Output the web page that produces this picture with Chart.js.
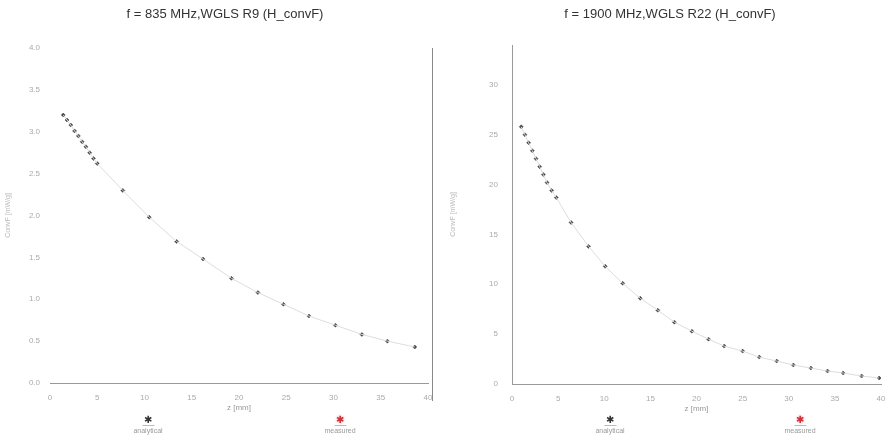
<!DOCTYPE html>
<html>
<head>
<meta charset="utf-8">
<script src="https://cdn.jsdelivr.net/npm/chart.js@4"></script>
<style>
  body { margin: 0; background: #fff; font-family: Arial, "Liberation Sans", sans-serif; }
  #wrap { position: relative; width: 889px; height: 446px; overflow: hidden; }
  .box { position: absolute; top: 0; height: 446px; }
  .title { position: absolute; top: 6px; font-size: 13px; color: #333; white-space: nowrap; transform: translateX(-50%); }
  .leg { position: absolute; top: 414px; font-size: 7px; color: #999; text-align: center; transform: translateX(-50%); line-height: 9px; }
  .leg .ic { font-size: 10px; color: #333; line-height: 11px; border-bottom: 1px solid #bbb; display: inline-block; padding: 0 2px; }
  .leg .ic.red { color: #c33; text-shadow: 0 0 3px #f9c; }
</style>
</head>
<body>
<div id="wrap">
  <div class="box" style="left:0;width:445px"><canvas id="left" width="445" height="446"></canvas></div>
  <div class="box" style="left:445px;width:444px"><canvas id="right" width="444" height="446"></canvas></div>
  <div class="title" style="left:225px">f = 835 MHz,WGLS R9 (H_convF)</div>
  <div class="title" style="left:670px">f = 1900 MHz,WGLS R22 (H_convF)</div>
  <div class="leg" style="left:148px"><span class="ic">✱</span><br>analytical</div>
  <div class="leg" style="left:340px"><span class="ic red">✱</span><br>measured</div>
  <div class="leg" style="left:610px"><span class="ic">✱</span><br>analytical</div>
  <div class="leg" style="left:800px"><span class="ic red">✱</span><br>measured</div>
</div>
<script>
// 835 MHz, R9
const zLeft = [1.4, 1.8, 2.2, 2.6, 3.0, 3.4, 3.8, 4.2, 4.6, 5.0,
  7.7, 10.5, 13.4, 16.2, 19.2, 22.0, 24.7, 27.4, 30.2, 33.0, 35.7, 38.6];
const convLeft = [3.20, 3.14, 3.08, 3.01, 2.95, 2.88, 2.82, 2.75, 2.68, 2.62,
  2.30, 1.98, 1.69, 1.48, 1.25, 1.08, 0.94, 0.80, 0.69, 0.58, 0.50, 0.43];

// 1900 MHz, R22
const zRight = [1.0, 1.4, 1.8, 2.2, 2.6, 3.0, 3.4, 3.8, 4.3, 4.8,
  6.4, 8.3, 10.1, 12.0, 13.9, 15.8, 17.6, 19.5, 21.3, 23.0, 25.0, 26.8,
  28.7, 30.5, 32.4, 34.2, 35.9, 37.9, 39.8];
const convRight = [25.8, 25.0, 24.2, 23.4, 22.6, 21.8, 21.0, 20.2, 19.4, 18.7,
  16.2, 13.8, 11.8, 10.1, 8.6, 7.4, 6.2, 5.3, 4.5, 3.8, 3.3, 2.7,
  2.3, 1.9, 1.6, 1.3, 1.1, 0.8, 0.6];

const xTicks = [0, 5, 10, 15, 20, 25, 30, 35, 40];
const yTicksLeft = [0, 0.5, 1, 1.5, 2, 2.5, 3, 3.5, 4];
const yTicksRight = [0, 5, 10, 15, 20, 25, 30];

const pts = (xs, ys) => xs.map((x, i) => ({ x, y: ys[i] }));

const rightLine = {
  id: "rightLine",
  afterDraw(chart, args, opts) {
    if (!opts.on) return;
    const { ctx, chartArea } = chart;
    ctx.save();
    ctx.strokeStyle = "#888";
    ctx.lineWidth = 1;
    ctx.beginPath();
    ctx.moveTo(chartArea.right + 4.5, chartArea.top);
    ctx.lineTo(chartArea.right + 4.5, chartArea.bottom + 18);
    ctx.stroke();
    ctx.restore();
  }
};

function makeChart(id, xs, ys, yMax, yTicks, pad, yWidth, showYBorder, sideLine) {
  return new Chart(document.getElementById(id), {
    type: "scatter",
    data: {
      datasets: [
        {
          label: "analytical",
          data: pts(xs, ys),
          showLine: true,
          borderColor: "#ddd",
          borderWidth: 1,
          pointRadius: 0
        },
        {
          label: "measured",
          data: pts(xs, ys),
          pointStyle: "rectRot",
          pointRadius: 2,
          backgroundColor: "#444",
          borderColor: "#444",
          borderWidth: 0.5
        }
      ]
    },
    options: {
      responsive: false,
      animation: false,
      layout: { padding: pad },
      plugins: { legend: { display: false }, tooltip: { enabled: false }, rightLine: { on: sideLine } },
      scales: {
        x: {
          type: "linear",
          min: 0, max: 40,
          afterBuildTicks: s => { s.ticks = xTicks.map(v => ({ value: v })); },
          afterFit: s => { s.height = 34; },
          grid: { display: false },
          border: { display: true, color: "#999" },
          ticks: { color: "#aaa", font: { size: 8 }, padding: 2 },
          title: { display: true, text: "z [mm]", color: "#999", font: { size: 8 }, padding: { top: 9 } }
        },
        y: {
          type: "linear",
          min: 0, max: yMax,
          afterBuildTicks: s => { s.ticks = yTicks.map(v => ({ value: v })); },
          afterFit: s => { s.width = yWidth; },
          grid: { display: false },
          border: { display: showYBorder, color: "#999" },
          ticks: {
            color: "#aaa", font: { size: 8 }, padding: showYBorder ? 6 : 2,
            callback: v => yMax <= 5 ? v.toFixed(1) : String(v)
          },
          title: { display: true, text: "ConvF [mW/g]", color: "#bbb", font: { size: 7 } }
        }
      }
    },
    plugins: [rightLine]
  });
}

makeChart("left", zLeft, convLeft, 4, yTicksLeft,
  { left: 0, right: 17, top: 48, bottom: 29 }, 50, false, true);
makeChart("right", zRight, convRight, 34, yTicksRight,
  { left: 0, right: 8, top: 45, bottom: 28 }, 67, true, false);
</script>
</body>
</html>
